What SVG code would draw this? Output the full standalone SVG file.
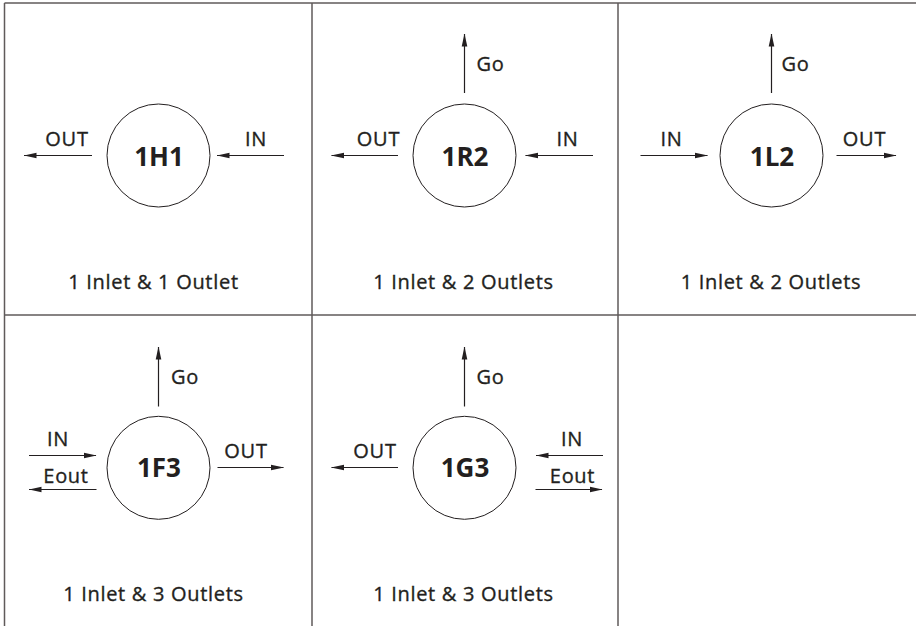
<svg xmlns="http://www.w3.org/2000/svg" width="916" height="626" viewBox="0 0 916 626">
<defs>
<style>
.grid{stroke:#5f5a5a;stroke-width:1.5;fill:none}
.node{fill:none;stroke:#231f20;stroke-width:1}
.name{font-family:"Open Sans","Noto Sans","Liberation Sans",sans-serif;font-weight:bold;font-size:26px;fill:#231f20;text-anchor:middle}
.lbl{font-family:"Open Sans","Noto Sans","Liberation Sans",sans-serif;font-size:20px;fill:#231f20;stroke:#231f20;stroke-width:0.35px;letter-spacing:0.7px}
.c{text-anchor:middle}
.arr{stroke:#231f20;stroke-width:1.2;fill:none;marker-end:url(#ah)}
</style>
<marker id="ah" markerUnits="userSpaceOnUse" markerWidth="13" markerHeight="7" viewBox="0 -3.5 13 7" refX="12.5" refY="0" orient="auto">
<path d="M0,-2.8 L13,0 L0,2.8 z" fill="#231f20"/>
</marker>
</defs>
<rect width="916" height="626" fill="#fff"/>
<g id="grid">
<line class="grid" x1="4.5" y1="3" x2="916" y2="3"/>
<line class="grid" x1="4.5" y1="3" x2="4.5" y2="626"/>
<line class="grid" x1="4.5" y1="315" x2="916" y2="315"/>
<line class="grid" x1="312" y1="3" x2="312" y2="626"/>
<line class="grid" x1="618" y1="3" x2="618" y2="626"/>
</g>
<g id="connectors">
<line class="arr" x1="92" y1="155.5" x2="24" y2="155.5"/>
<line class="arr" x1="284" y1="155.5" x2="217" y2="155.5"/>
<line class="arr" x1="464.5" y1="93" x2="464.5" y2="34"/>
<line class="arr" x1="398" y1="155.5" x2="331.5" y2="155.5"/>
<line class="arr" x1="593" y1="155.5" x2="525.5" y2="155.5"/>
<line class="arr" x1="771.5" y1="93" x2="771.5" y2="34"/>
<line class="arr" x1="640.5" y1="155.5" x2="707.5" y2="155.5"/>
<line class="arr" x1="836.5" y1="155.5" x2="896" y2="155.5"/>
<line class="arr" x1="158.5" y1="406.5" x2="158.5" y2="347"/>
<line class="arr" x1="29" y1="455.5" x2="96" y2="455.5"/>
<line class="arr" x1="96.5" y1="489.5" x2="29" y2="489.5"/>
<line class="arr" x1="217.5" y1="467.5" x2="283.5" y2="467.5"/>
<line class="arr" x1="464.5" y1="406.5" x2="464.5" y2="347"/>
<line class="arr" x1="398" y1="467.5" x2="331.5" y2="467.5"/>
<line class="arr" x1="603" y1="455.5" x2="536" y2="455.5"/>
<line class="arr" x1="535.5" y1="489.5" x2="602" y2="489.5"/>
</g>
<g id="n1H1">
<circle class="node" cx="158.5" cy="155.5" r="51.5"/>
<text class="name" x="159" y="165.5">1H1</text>
<text class="lbl c" x="67" y="146">OUT</text>
<text class="lbl c" x="256" y="146">IN</text>
<text class="lbl c" x="153.5" y="289">1 Inlet &amp; 1 Outlet</text>
</g>
<g id="n1R2">
<circle class="node" cx="464.5" cy="155.5" r="51.5"/>
<text class="name" x="465" y="165.5">1R2</text>
<text class="lbl" x="476.5" y="71">Go</text>
<text class="lbl c" x="378.5" y="146">OUT</text>
<text class="lbl c" x="567.5" y="146">IN</text>
<text class="lbl c" x="463.5" y="289">1 Inlet &amp; 2 Outlets</text>
</g>
<g id="n1L2">
<circle class="node" cx="771.5" cy="155.5" r="51.5"/>
<text class="name" x="772" y="165.5">1L2</text>
<text class="lbl" x="781.5" y="71">Go</text>
<text class="lbl c" x="671.5" y="146">IN</text>
<text class="lbl c" x="864.5" y="146">OUT</text>
<text class="lbl c" x="771" y="289">1 Inlet &amp; 2 Outlets</text>
</g>
<g id="n1F3">
<circle class="node" cx="158.5" cy="467.8" r="51.5"/>
<text class="name" x="159" y="477">1F3</text>
<text class="lbl" x="171" y="383.5">Go</text>
<text class="lbl c" x="58" y="446">IN</text>
<text class="lbl c" x="66" y="482.5">Eout</text>
<text class="lbl c" x="246" y="457.5">OUT</text>
<text class="lbl c" x="153.5" y="601">1 Inlet &amp; 3 Outlets</text>
</g>
<g id="n1G3">
<circle class="node" cx="464.5" cy="467.8" r="51.5"/>
<text class="name" x="465" y="477">1G3</text>
<text class="lbl" x="476.5" y="383.5">Go</text>
<text class="lbl c" x="375" y="457.5">OUT</text>
<text class="lbl c" x="572" y="446">IN</text>
<text class="lbl c" x="572.5" y="482.5">Eout</text>
<text class="lbl c" x="463.5" y="601">1 Inlet &amp; 3 Outlets</text>
</g>
</svg>
